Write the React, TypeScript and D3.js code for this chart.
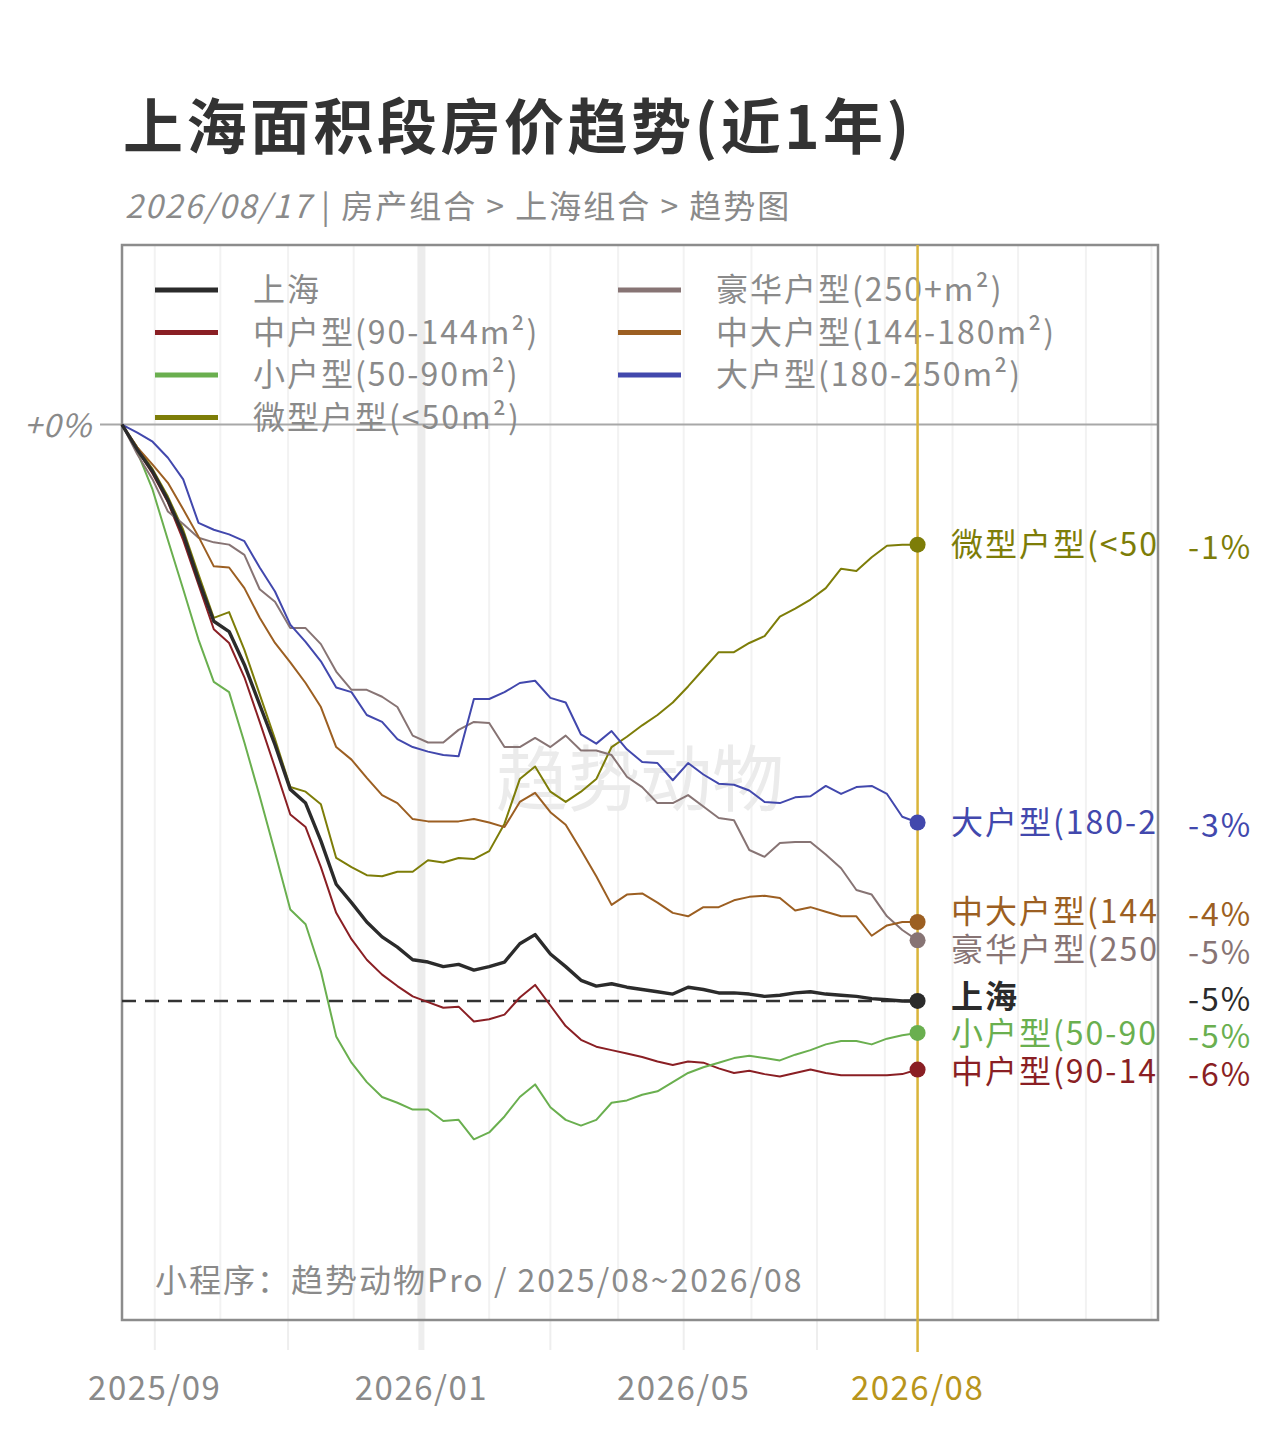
import React, { useEffect, useRef } from 'react';
import * as d3 from 'd3';

// weekly samples, 2025-08-17 .. 2026-08-16 (percent change vs. start)
const startDate = new Date(2025, 7, 17);
const weeks = d3.range(53).map(i => d3.timeDay.offset(startDate, i * 7));

const shanghai = [0, -0.22, -0.41, -0.66, -0.96, -1.36, -1.72, -1.81, -2.10, -2.45, -2.80, -3.19, -3.31, -3.64, -4.02, -4.18, -4.35, -4.48, -4.57, -4.68, -4.70, -4.74, -4.72, -4.77, -4.74, -4.70, -4.54, -4.46, -4.63, -4.74, -4.86, -4.91, -4.89, -4.92, -4.94, -4.96, -4.98, -4.92, -4.94, -4.97, -4.97, -4.98, -5.00, -4.99, -4.97, -4.96, -4.98, -4.99, -5.00, -5.02, -5.03, -5.04, -5.04];
const midSize = [0, -0.22, -0.43, -0.68, -1.01, -1.40, -1.79, -1.91, -2.21, -2.60, -3.00, -3.41, -3.52, -3.87, -4.27, -4.50, -4.68, -4.81, -4.91, -5.00, -5.05, -5.10, -5.09, -5.22, -5.20, -5.16, -5.01, -4.90, -5.08, -5.26, -5.38, -5.44, -5.47, -5.50, -5.53, -5.57, -5.60, -5.57, -5.58, -5.63, -5.67, -5.65, -5.68, -5.70, -5.67, -5.64, -5.67, -5.69, -5.69, -5.69, -5.69, -5.68, -5.64];
const smallSize = [0, -0.24, -0.57, -1.01, -1.44, -1.88, -2.25, -2.34, -2.78, -3.25, -3.74, -4.24, -4.37, -4.78, -5.35, -5.58, -5.75, -5.88, -5.93, -5.99, -5.99, -6.09, -6.08, -6.25, -6.19, -6.05, -5.88, -5.77, -5.97, -6.08, -6.13, -6.08, -5.93, -5.91, -5.86, -5.83, -5.75, -5.67, -5.62, -5.58, -5.54, -5.52, -5.54, -5.56, -5.51, -5.47, -5.42, -5.39, -5.39, -5.42, -5.37, -5.34, -5.32];
const microSize = [0, -0.20, -0.39, -0.63, -0.92, -1.31, -1.69, -1.64, -1.97, -2.36, -2.75, -3.17, -3.21, -3.32, -3.79, -3.87, -3.94, -3.95, -3.91, -3.91, -3.81, -3.83, -3.79, -3.80, -3.73, -3.49, -3.10, -2.99, -3.21, -3.30, -3.21, -3.10, -2.82, -2.73, -2.63, -2.54, -2.43, -2.29, -2.14, -1.99, -1.99, -1.91, -1.85, -1.68, -1.61, -1.53, -1.43, -1.26, -1.28, -1.16, -1.06, -1.05, -1.05];
const luxurySize = [0, -0.26, -0.48, -0.76, -0.87, -0.99, -1.03, -1.05, -1.14, -1.44, -1.55, -1.78, -1.78, -1.92, -2.16, -2.32, -2.32, -2.38, -2.47, -2.72, -2.78, -2.78, -2.67, -2.60, -2.61, -2.82, -2.82, -2.74, -2.82, -2.72, -2.85, -2.85, -2.89, -3.08, -3.17, -3.31, -3.31, -3.24, -3.34, -3.44, -3.46, -3.72, -3.78, -3.66, -3.65, -3.65, -3.76, -3.88, -4.07, -4.11, -4.30, -4.42, -4.51];
const midLargeSize = [0, -0.20, -0.35, -0.51, -0.74, -0.98, -1.24, -1.25, -1.43, -1.69, -1.91, -2.08, -2.26, -2.47, -2.82, -2.93, -3.09, -3.24, -3.31, -3.45, -3.47, -3.47, -3.47, -3.45, -3.48, -3.52, -3.30, -3.22, -3.39, -3.50, -3.72, -3.95, -4.20, -4.11, -4.10, -4.18, -4.27, -4.30, -4.22, -4.22, -4.16, -4.13, -4.12, -4.14, -4.25, -4.22, -4.26, -4.30, -4.30, -4.47, -4.38, -4.35, -4.35];
const largeSize = [0, -0.07, -0.15, -0.29, -0.48, -0.86, -0.92, -0.96, -1.02, -1.25, -1.46, -1.75, -1.90, -2.07, -2.30, -2.34, -2.54, -2.60, -2.75, -2.82, -2.86, -2.89, -2.90, -2.40, -2.40, -2.34, -2.26, -2.24, -2.39, -2.43, -2.71, -2.79, -2.68, -2.84, -2.95, -2.96, -3.11, -2.96, -3.06, -3.14, -3.15, -3.20, -3.30, -3.31, -3.26, -3.25, -3.16, -3.23, -3.17, -3.16, -3.23, -3.43, -3.48];

const legendNames = ['上海', '中户型(90-144m²)', '小户型(50-90m²)', '微型户型(<50m²)', '豪华户型(250+m²)', '中大户型(144-180m²)', '大户型(180-250m²)'];
const seriesValues = [shanghai, midSize, smallSize, microSize, luxurySize, midLargeSize, largeSize];
const seriesColors = ['#2b2b2b', '#8a1f24', '#6aaf4f', '#7d7d08', '#877474', '#9c5f22', '#4248ad'];

const tickDates = [new Date(2025, 8, 1), new Date(2026, 0, 1), new Date(2026, 4, 1)];
const tickLabels = ['2025/09', '2026/01', '2026/05'];
const endTickLabel = '2026/08';

const FONT = '"Noto Sans CJK SC", "Noto Sans", sans-serif';

const App: React.FC = () => {
  const svgRef = useRef<SVGSVGElement>(null);
  const width = 1280;
  const height = 1443;

  useEffect(() => {
    if (!svgRef.current) return;
    const svg = d3.select(svgRef.current);
    svg.selectAll('*').remove();

    const plot = { left: 122, right: 1158, top: 245, bottom: 1320 };

    const x = d3.scaleTime()
      .domain([startDate, new Date(2026, 11, 4)])
      .range([plot.left, plot.right]);
    const y = d3.scaleLinear()
      .domain([-7.83, 1.57])
      .range([plot.bottom, plot.top]);

    svg.append('rect').attr('width', width).attr('height', height).attr('fill', '#fff');

    // title + subtitle
    svg.append('text')
      .attr('x', 123).attr('y', 149)
      .attr('font-family', FONT).attr('font-weight', 700).attr('font-size', 60)
      .attr('fill', '#333')
      .attr('letter-spacing', 3.5)
      .text('上海面积段房价趋势(近1年)');
    const sub = svg.append('text')
      .attr('x', 125).attr('y', 218)
      .attr('font-family', FONT).attr('font-size', 32).attr('fill', '#8a8a8a')
      .attr('letter-spacing', 2);
    sub.append('tspan').attr('font-style', 'italic').text('2026/08/17');
    sub.append('tspan').text(' | 房产组合 > 上海组合 > 趋势图');

    const endDate = weeks[weeks.length - 1];
    const endX = x(endDate);

    // month grid
    const months = d3.timeMonth.range(new Date(2025, 8, 1), new Date(2026, 11, 5));
    svg.append('g')
      .selectAll('line')
      .data(months)
      .join('line')
      .attr('x1', d => x(d)).attr('x2', d => x(d))
      .attr('y1', plot.top).attr('y2', plot.bottom)
      .attr('stroke', d => (d.getMonth() === 0 ? '#ececec' : '#f2f2f2'))
      .attr('stroke-width', d => (d.getMonth() === 0 ? 8 : 2));
    // ticks below the frame, every 2 months from Sep
    svg.append('g')
      .selectAll('line')
      .data(months.filter(d => d < endDate && (d.getMonth() - 8 + 12) % 2 === 0))
      .join('line')
      .attr('x1', d => x(d)).attr('x2', d => x(d))
      .attr('y1', plot.bottom).attr('y2', 1350)
      .attr('stroke', '#eeeeee')
      .attr('stroke-width', d => (d.getMonth() === 0 ? 6 : 2));

    // watermark
    svg.append('text')
      .attr('x', 640).attr('y', 805)
      .attr('text-anchor', 'middle')
      .attr('font-family', FONT).attr('font-size', 72)
      .attr('fill', '#ebebeb')
      .text('趋势动物');

    // zero line
    svg.append('line')
      .attr('x1', 100).attr('x2', plot.right)
      .attr('y1', y(0)).attr('y2', y(0))
      .attr('stroke', '#a8a8a8').attr('stroke-width', 2);
    svg.append('text')
      .attr('x', 92).attr('y', y(0) + 12)
      .attr('text-anchor', 'end')
      .attr('font-family', FONT).attr('font-style', 'italic').attr('font-size', 32)
      .attr('fill', '#8a8a8a')
      .attr('letter-spacing', 1)
      .text('+0%');

    // frame
    svg.append('rect')
      .attr('x', plot.left).attr('y', plot.top)
      .attr('width', plot.right - plot.left).attr('height', plot.bottom - plot.top)
      .attr('fill', 'none').attr('stroke', '#8c8c8c').attr('stroke-width', 2.5);

    // legend
    const legend = svg.append('g').attr('font-family', FONT).attr('font-size', 32).attr('letter-spacing', 2);
    legendNames.forEach((name, i) => {
      const col = i < 4 ? 0 : 1;
      const row = i < 4 ? i : i - 4;
      const lx = col === 0 ? 155 : 618;
      const ly = 290 + row * 42.5;
      legend.append('line')
        .attr('x1', lx).attr('x2', lx + 63)
        .attr('y1', ly).attr('y2', ly)
        .attr('stroke', seriesColors[i]).attr('stroke-width', 5);
      legend.append('text')
        .attr('x', lx + 98).attr('y', ly + 11)
        .attr('fill', '#8a8a8a')
        .text(name);
    });

    // dashed reference at 上海 end value
    svg.append('line')
      .attr('x1', plot.left).attr('x2', endX)
      .attr('y1', y(shanghai[shanghai.length - 1])).attr('y2', y(shanghai[shanghai.length - 1]))
      .attr('stroke', '#333').attr('stroke-width', 2.5)
      .attr('stroke-dasharray', '14,9');

    // current date line
    svg.append('line')
      .attr('x1', endX).attr('x2', endX)
      .attr('y1', plot.top).attr('y2', 1352)
      .attr('stroke', '#d9b43a').attr('stroke-width', 2.5);

    // series lines (上海 drawn last, on top)
    const line = d3.line<number>()
      .x((_, i) => x(weeks[i]))
      .y(d => y(d));
    const order = [1, 2, 3, 4, 5, 6, 0];
    const lines = svg.append('g').attr('fill', 'none').attr('stroke-linejoin', 'round');
    order.forEach(k => {
      lines.append('path')
        .attr('d', line(seriesValues[k]) as string)
        .attr('stroke', seriesColors[k])
        .attr('stroke-width', k === 0 ? 3.4 : 2);
    });

    // end dots
    svg.append('g')
      .selectAll('circle')
      .data(order)
      .join('circle')
      .attr('cx', endX)
      .attr('cy', k => y(seriesValues[k][seriesValues[k].length - 1]))
      .attr('r', 8)
      .attr('fill', k => seriesColors[k]);

    // end labels with simple collision relax
    const labelItems = seriesValues.map((vals, k) => {
      const v = vals[vals.length - 1];
      return { k, v, pos: y(v) };
    }).sort((a, b) => a.pos - b.pos);
    const gap = 37.5;
    for (let iter = 0; iter < 200; iter++) {
      for (let j = 1; j < labelItems.length; j++) {
        const a = labelItems[j - 1];
        const b = labelItems[j];
        const overlap = gap - (b.pos - a.pos);
        if (overlap > 0) {
          a.pos -= overlap / 2;
          b.pos += overlap / 2;
        }
      }
    }

    svg.append('defs').append('clipPath').attr('id', 'labelClip')
      .append('rect').attr('x', 0).attr('y', 0).attr('width', plot.right - 1).attr('height', height);

    const labelX = 951;
    const labels = svg.append('g').attr('font-family', FONT).attr('font-size', 32).attr('letter-spacing', 2);
    const nameText = labels.append('g').attr('clip-path', 'url(#labelClip)')
      .selectAll('text')
      .data(labelItems)
      .join('text')
      .attr('x', labelX)
      .attr('y', d => d.pos + 11)
      .attr('fill', d => seriesColors[d.k])
      .attr('font-weight', d => (d.k === 0 ? 700 : 400))
      .text(d => legendNames[d.k]);
    // drop characters that start past the frame; the clip cuts the last one
    nameText.each(function (d) {
      const el = this as SVGTextElement;
      const full = legendNames[d.k];
      let n = full.length;
      while (n > 1 && el.getNumberOfChars() >= n && el.getStartPositionOfChar(n - 1).x > plot.right - 2) {
        n -= 1;
      }
      if (n < full.length) el.textContent = full.slice(0, n);
    });
    labels.append('g')
      .selectAll('text')
      .data(labelItems)
      .join('text')
      .attr('x', 1188)
      .attr('y', d => d.pos + 14)
      .attr('fill', d => seriesColors[d.k])
      .text(d => `${String(Math.round(d.v))}%`);

    // footer note
    svg.append('text')
      .attr('x', 155).attr('y', 1292)
      .attr('font-family', FONT).attr('font-size', 32)
      .attr('letter-spacing', 2)
      .attr('fill', '#8a8a8a')
      .text('小程序：趋势动物Pro / 2025/08~2026/08');

    // x-axis labels
    const axis = svg.append('g').attr('font-family', FONT).attr('font-size', 33)
      .attr('letter-spacing', 1.5).attr('text-anchor', 'middle');
    axis.selectAll('text.tick')
      .data(tickDates)
      .join('text')
      .attr('class', 'tick')
      .attr('x', d => x(d))
      .attr('y', 1400)
      .attr('fill', '#8a8a8a')
      .text((_, i) => tickLabels[i]);
    axis.append('text')
      .attr('x', endX).attr('y', 1400)
      .attr('fill', '#b8951c')
      .text(endTickLabel);
  }, []);

  return (
    <svg
      ref={svgRef}
      width={width}
      height={height}
      style={{ position: 'absolute', left: 0, top: 0, display: 'block' }}
    />
  );
};

export default App;
